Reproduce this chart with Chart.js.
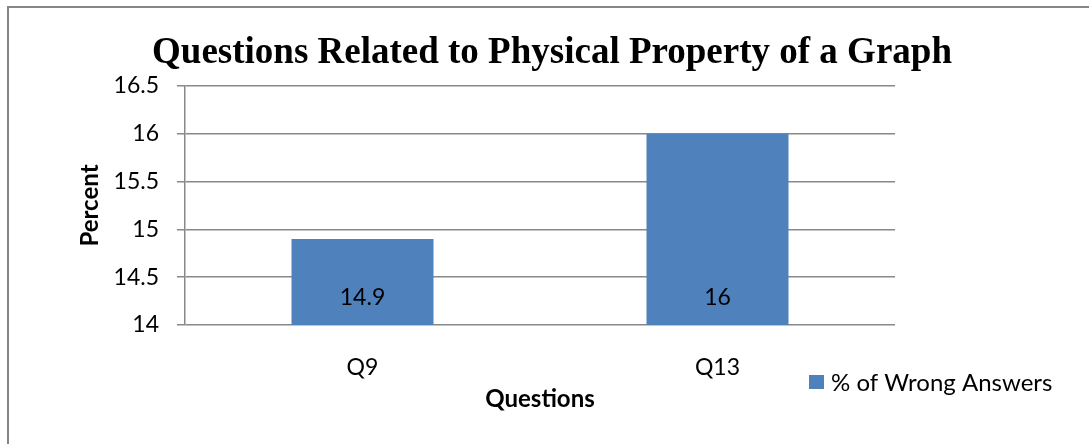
<!DOCTYPE html>
<html>
<head>
<meta charset="utf-8">
<script src="https://cdn.jsdelivr.net/npm/chart.js@4.4.1/dist/chart.umd.min.js"></script>
<style>
  html, body { margin: 0; padding: 0; background: #fff; overflow: hidden; }
  canvas { display: block; }
</style>
</head>
<body>
<canvas id="chart" width="1089" height="444"></canvas>
<script>
// chart data
const categories = ['Q9', 'Q13'];
const wrongAnswers = [14.9, 16];
const seriesLabel = '% of Wrong Answers';
const yTicks = [14, 14.5, 15, 15.5, 16, 16.5];
const chartTitle = 'Questions Related to Physical Property of a Graph';

const uiFont = 'Lato, "Open Sans", sans-serif';
const gridGray = '#888888';

// frame, title, data labels and the legend box at the lower right
const extras = {
    id: 'extras',
    beforeDraw(chart) {
        const ctx = chart.ctx;
        ctx.save();
        ctx.fillStyle = '#fff';
        ctx.fillRect(0, 0, chart.width, chart.height);
        ctx.strokeStyle = '#868686';
        ctx.lineWidth = 2;
        ctx.strokeRect(8, 7, chart.width + 20, chart.height + 20);

        // title is centred on the whole frame, not on the plot
        ctx.fillStyle = '#000';
        ctx.font = 'bold 37px "Liberation Serif", "Times New Roman", serif';
        ctx.textAlign = 'center';
        ctx.textBaseline = 'alphabetic';
        ctx.fillText(chartTitle, 552, 63);
        ctx.restore();
    },
    afterDatasetsDraw(chart) {
        const ctx = chart.ctx;
        const ds = chart.data.datasets[0];
        const meta = chart.getDatasetMeta(0);
        const base = chart.scales.y.getPixelForValue(yTicks[0]);
        ctx.save();
        ctx.font = '23px ' + uiFont;
        ctx.fillStyle = '#000';
        ctx.textAlign = 'center';
        ctx.textBaseline = 'middle';
        meta.data.forEach((bar, i) => {
            ctx.fillText(String(ds.data[i]), bar.x, base - 27);
        });

        // legend
        ctx.fillStyle = ds.backgroundColor;
        ctx.fillRect(809, 375, 15, 14);
        ctx.fillStyle = '#000';
        ctx.textAlign = 'left';
        ctx.font = '24px ' + uiFont;
        ctx.fillText(ds.label, 831, 383);
        ctx.restore();
    }
};

new Chart(document.getElementById('chart'), {
    type: 'bar',
    data: {
        labels: categories,
        datasets: [{
            label: seriesLabel,
            data: wrongAnswers,
            backgroundColor: '#4F81BD',
            borderWidth: 0,
            categoryPercentage: 1,
            barPercentage: 0.4
        }]
    },
    options: {
        responsive: false,
        animation: false,
        layout: { padding: { top: 86, left: 10, right: 194, bottom: 10 } },
        plugins: {
            legend: { display: false },
            tooltip: { enabled: false },
            title: { display: false }
        },
        scales: {
            x: {
                grid: { display: false },
                border: { display: false },
                ticks: { color: '#000', font: { family: uiFont, size: 23 }, padding: 21 },
                title: {
                    display: true,
                    text: 'Questions',
                    color: '#000',
                    font: { family: uiFont, size: 24, weight: 'bold' },
                    padding: { top: 0, bottom: 20 }
                },
                afterFit: s => { s.height = 109; }
            },
            y: {
                min: yTicks[0],
                max: yTicks[yTicks.length - 1],
                afterBuildTicks: s => { s.ticks = yTicks.map(v => ({ value: v })); },
                grid: { color: gridGray, lineWidth: 1.5, tickLength: 8 },
                border: { color: gridGray, width: 1.5 },
                ticks: {
                    color: '#000',
                    font: { family: uiFont, size: 23 },
                    padding: 18,
                    callback: v => String(v)
                },
                title: {
                    display: true,
                    text: 'Percent',
                    color: '#000',
                    font: { family: uiFont, size: 24, weight: 'bold' },
                    padding: { top: 66, bottom: 0 }
                },
                afterFit: s => { s.width = 175; }
            }
        }
    },
    plugins: [extras]
});
</script>
</body>
</html>
